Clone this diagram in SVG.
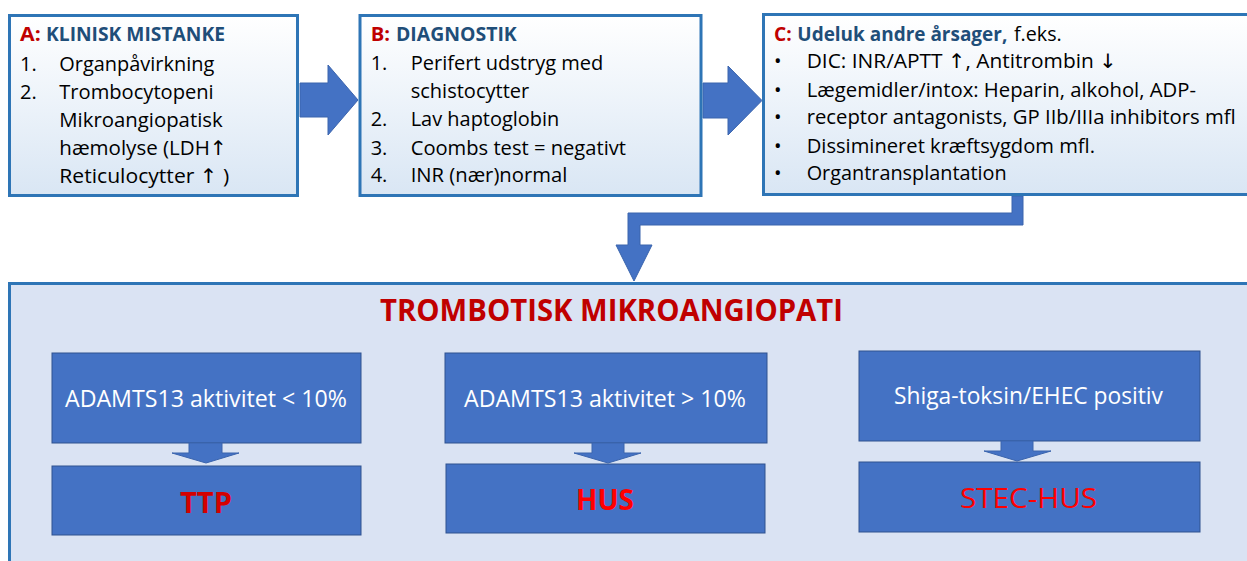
<svg xmlns="http://www.w3.org/2000/svg" width="1247" height="561" viewBox="0 0 1247 561">
<defs>
<linearGradient id="gTop" x1="0" y1="0" x2="0" y2="1">
<stop offset="0" stop-color="#ffffff"/>
<stop offset="1" stop-color="#d9e6f4"/>
</linearGradient>
<style>
.top{fill:url(#gTop);stroke:#2e75b6;stroke-width:3}
.big{fill:#dae3f3;stroke:#2e75b6;stroke-width:3}
.inner{fill:#4472c4;stroke:#2f528f;stroke-width:1}
.arr{fill:#4472c4;stroke:#3a64ad;stroke-width:1}
.t{font-family:"Open Sans","Liberation Sans",sans-serif;font-size:20px;fill:#000}
.h{font-family:"Open Sans","Liberation Sans",sans-serif;font-size:20px;font-weight:bold}
.ar{font-family:"DejaVu Sans",sans-serif;fill:#000}
.red{fill:#c00000}
.blue{fill:#1f4e79}
.w{font-family:"Open Sans","Liberation Sans",sans-serif;font-size:23px;fill:#ffffff}
.res{font-family:"Open Sans","Liberation Sans",sans-serif;font-size:28px;fill:#ff0000}
.title{font-family:"Open Sans","Liberation Sans",sans-serif;font-size:31px;font-weight:bold;fill:#c00000}
</style>
</defs>
<rect width="1247" height="561" fill="#ffffff"/>

<g id="connectors">
<polygon class="arr" points="300,83 328,83 328,65 358,100 328,135 328,117 300,117"/>
<polygon class="arr" points="703,83 728,83 728,66 762,100.5 728,135 728,118 703,118"/>
<polygon class="arr" points="1012,196 1023,196 1023,225 640,225 640,245 652,245 634,281 616,245 628,245 628,213 1012,213"/>
</g>

<g id="nodeA">
<rect class="top" x="9.5" y="15.5" width="288" height="180"/>
<text class="h red" x="20" y="41" textLength="20.7" lengthAdjust="spacingAndGlyphs">A:</text>
<text class="h blue" x="46" y="41" textLength="179" lengthAdjust="spacingAndGlyphs">KLINISK MISTANKE</text>
<text class="t" x="20" y="70.7">1.</text>
<text class="t" x="59.3" y="70.7" textLength="155" lengthAdjust="spacingAndGlyphs">Organpåvirkning</text>
<text class="t" x="20" y="98.5">2.</text>
<text class="t" x="59.3" y="98.5" textLength="154.4" lengthAdjust="spacingAndGlyphs">Trombocytopeni</text>
<text class="t" x="59.3" y="126.7" textLength="163.4" lengthAdjust="spacingAndGlyphs">Mikroangiopatisk</text>
<text class="t" x="59.3" y="155" textLength="167.7" lengthAdjust="spacingAndGlyphs">hæmolyse (LDH<tspan class="ar">↑</tspan></text>
<text class="t" x="59.3" y="183" textLength="170" lengthAdjust="spacingAndGlyphs">Reticulocytter <tspan class="ar">↑</tspan> )</text>
</g>

<g id="nodeB">
<rect class="top" x="360" y="15.5" width="341" height="180"/>
<text class="h red" x="370.7" y="41" textLength="19.3" lengthAdjust="spacingAndGlyphs">B:</text>
<text class="h blue" x="396" y="41" textLength="120.7" lengthAdjust="spacingAndGlyphs">DIAGNOSTIK</text>
<text class="t" x="370.7" y="70">1.</text>
<text class="t" x="410.7" y="70" textLength="192.6" lengthAdjust="spacingAndGlyphs">Perifert udstryg med</text>
<text class="t" x="410.7" y="98" textLength="118.6" lengthAdjust="spacingAndGlyphs">schistocytter</text>
<text class="t" x="370.7" y="126">2.</text>
<text class="t" x="410.7" y="126" textLength="148.6" lengthAdjust="spacingAndGlyphs">Lav haptoglobin</text>
<text class="t" x="370.7" y="155">3.</text>
<text class="t" x="410.7" y="155" textLength="215.3" lengthAdjust="spacingAndGlyphs">Coombs test = negativt</text>
<text class="t" x="370.7" y="182">4.</text>
<text class="t" x="410.7" y="182" textLength="156.6" lengthAdjust="spacingAndGlyphs">INR (nær)normal</text>
</g>

<g id="nodeC">
<rect class="top" x="763.5" y="14.5" width="600" height="180"/>
<text class="h red" x="774" y="40.7" textLength="17.7" lengthAdjust="spacingAndGlyphs">C:</text>
<text class="h blue" x="797.3" y="40.7" textLength="210" lengthAdjust="spacingAndGlyphs">Udeluk andre årsager,</text>
<text class="t" x="1014" y="40.7" textLength="47.7" lengthAdjust="spacingAndGlyphs">f.eks.</text>
<text class="t" x="774" y="68.3">•</text>
<text class="t" x="806.7" y="68.3" textLength="310" lengthAdjust="spacingAndGlyphs">DIC: INR/APTT <tspan class="ar">↑</tspan>, Antitrombin <tspan class="ar">↓</tspan></text>
<text class="t" x="774" y="96.7">•</text>
<text class="t" x="806.7" y="96.7" textLength="389.3" lengthAdjust="spacingAndGlyphs">Lægemidler/intox: Heparin, alkohol, ADP-</text>
<text class="t" x="774" y="124">•</text>
<text class="t" x="806.7" y="124" textLength="429" lengthAdjust="spacingAndGlyphs">receptor antagonists, GP IIb/IIIa inhibitors mfl</text>
<text class="t" x="774" y="152.7">•</text>
<text class="t" x="806.7" y="152.7" textLength="288.3" lengthAdjust="spacingAndGlyphs">Dissimineret kræftsygdom mfl.</text>
<text class="t" x="774" y="180">•</text>
<text class="t" x="806.7" y="180" textLength="200" lengthAdjust="spacingAndGlyphs">Organtransplantation</text>
</g>

<g id="tma">
<rect class="big" x="9.5" y="283.5" width="1300" height="400"/>
<text class="title" x="380" y="320.7" textLength="463" lengthAdjust="spacingAndGlyphs">TROMBOTISK MIKROANGIOPATI</text>
</g>

<g id="crit1">
<rect class="inner" x="52" y="353" width="309" height="90"/>
<text class="w" x="65" y="407" textLength="282" lengthAdjust="spacingAndGlyphs">ADAMTS13 aktivitet &lt; 10%</text>
</g>
<g id="crit2">
<rect class="inner" x="445" y="353" width="322" height="90"/>
<text class="w" x="464" y="407" textLength="282" lengthAdjust="spacingAndGlyphs">ADAMTS13 aktivitet &gt; 10%</text>
</g>
<g id="crit3">
<rect class="inner" x="859" y="351" width="341" height="90"/>
<text class="w" x="894" y="404" textLength="269" lengthAdjust="spacingAndGlyphs">Shiga-toksin/EHEC positiv</text>
</g>

<g id="small-arrows">
<polygon class="arr" points="189,443 222,443 222,453 239,453 206,463 172,453 189,453"/>
<polygon class="arr" points="592,443 624,443 624,453 641,453 608,463 574,453 592,453"/>
<polygon class="arr" points="1001,441 1033,441 1033,451 1051,451 1017,461 984,451 1001,451"/>
</g>

<g id="ttp">
<rect class="inner" x="52" y="466" width="309" height="69"/>
<text class="res" x="180" y="513" font-weight="bold" style="fill:#d40000" textLength="52" lengthAdjust="spacingAndGlyphs">TTP</text>
</g>
<g id="hus">
<rect class="inner" x="446" y="464" width="319" height="69"/>
<text class="res" x="576" y="510" font-weight="bold" textLength="58" lengthAdjust="spacingAndGlyphs">HUS</text>
</g>
<g id="stechus">
<rect class="inner" x="859" y="462" width="341" height="70"/>
<text class="res" x="960" y="508" textLength="137" lengthAdjust="spacingAndGlyphs">STEC-HUS</text>
</g>
</svg>
